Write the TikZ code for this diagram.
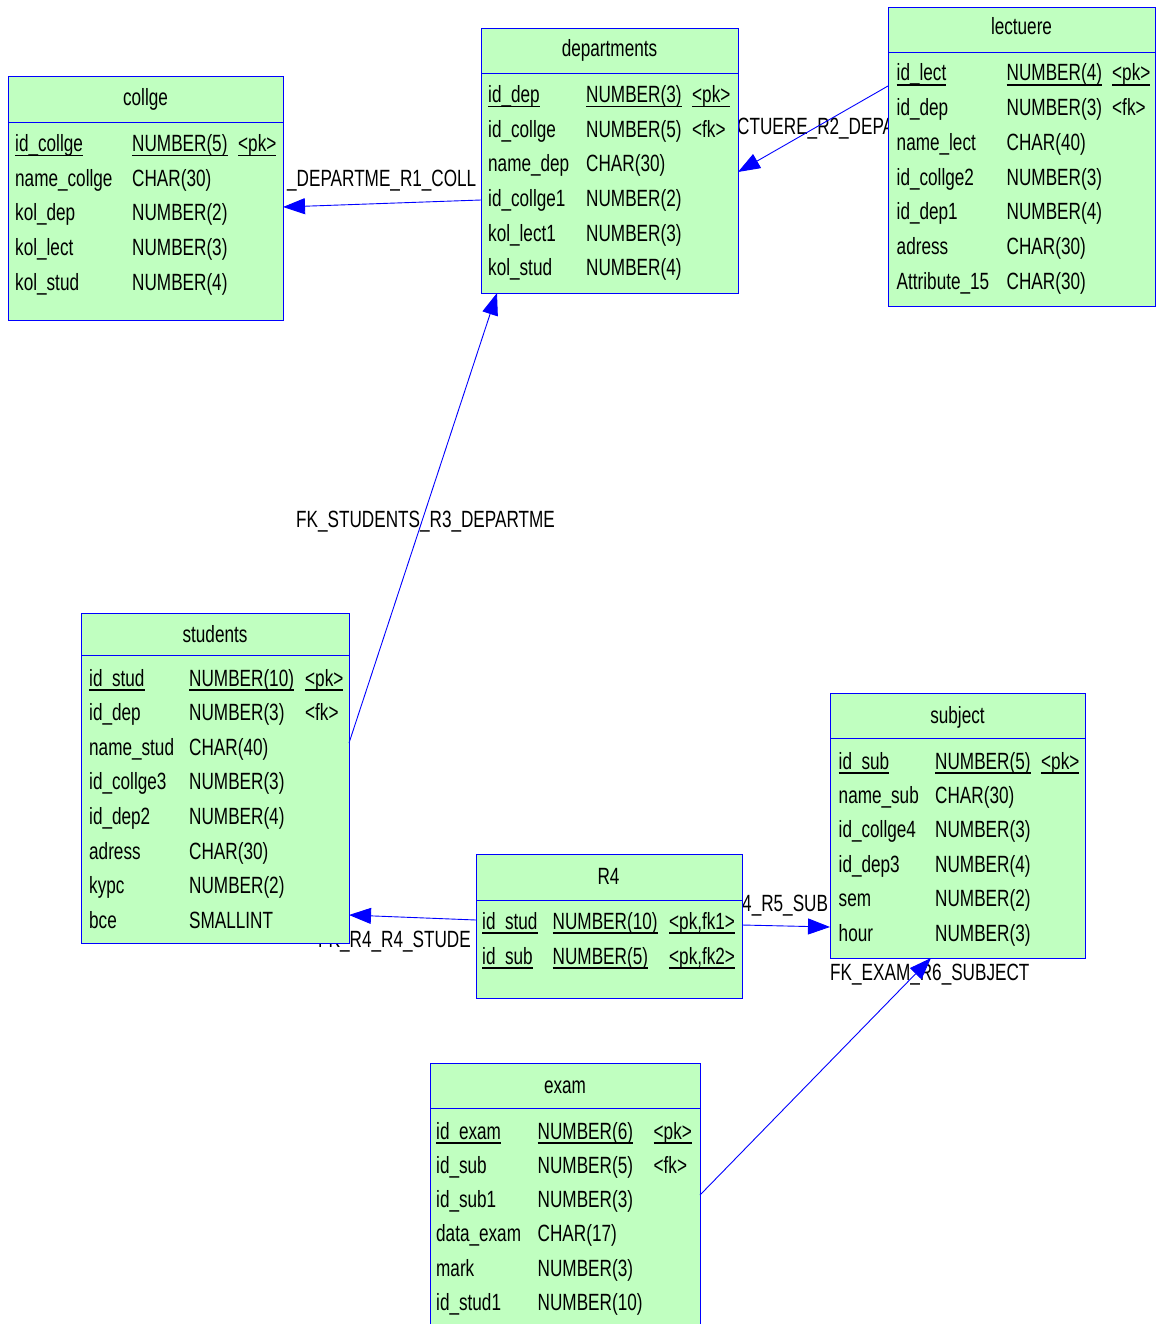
\documentclass[tikz,border=0pt]{standalone}
\usepackage{fontspec}
\setmainfont{Liberation Sans}[FakeStretch=0.73]
\usetikzlibrary{arrows.meta}
\definecolor{tgreen}{RGB}{192,255,192}
\definecolor{tblue}{RGB}{0,0,255}
\newcommand\ulx[1]{\setbox0=\hbox{#1}\rlap{\rule[-5pt]{\wd0}{1.8pt}}\box0}
\newcommand\erow[8]{%
  \node[cell] (#1a) at (#3,#2) {#6};
  \node[cell] (#1b) at (#4,#2) {#7};
  \node[cell] (#1c) at (#5,#2) {#8};}
\newcommand\drow[6]{%
  \node[cell] (#1a) at (#3,#2) {#5};
  \node[cell] (#1b) at (#4,#2) {#6};}
\tikzset{
  tbl/.style={draw=tblue, fill=tgreen, line width=0.9pt, anchor=north west, inner sep=0pt, outer sep=0pt},
  divline/.style={draw=tblue, line width=0.9pt},
  txt/.style={inner sep=0pt, font=\fontsize{23.5}{28}\selectfont},
  cell/.style={txt, anchor=base west},
  hdr/.style={txt, anchor=base},
  lbl/.style={txt, anchor=base west},
  fk/.style={draw=tblue, line width=0.9pt, -{Triangle[length=22pt,width=16pt]}},
}
\begin{document}
\begin{tikzpicture}[x=1pt,y=-1pt]
\clip (0,0) rectangle (1156,1324);
\fill[white] (0,0) rectangle (1156,1324);
% ---------- labels (partly hidden behind tables)
\node[lbl] (l1) at (287,187) {\_DEPARTME\_R1\_COLL};
\begin{scope}
  \clip (738,100) rectangle (888,150);
  \node[lbl] (l2) at (737,134.5) {CTUERE\_R2\_DEPA};
\end{scope}
\node[lbl, anchor=base] (l3) at (425.5,527) {FK\_STUDENTS\_R3\_DEPARTME};
\node[lbl] (l4) at (318,947) {FK\_R4\_R4\_STUDE};
\node[lbl] (l5) at (742,911) {4\_R5\_SUB};
\node[lbl] (l6) at (830,980) {FK\_EXAM\_R6\_SUBJECT};
% ---------- collge
\node[tbl, minimum width=275pt, minimum height=244pt] (collge) at (8,76) {};
\draw[divline] (collge.west |- 0,122) -- (collge.east |- 0,122);
\node[hdr] (collgeh) at (145.5,106) {collge};
\erow{co1}{151.5}{15}{132}{238}{\ulx{id\_collge}}{\ulx{NUMBER(5)}}{\ulx{<pk>}}
\drow{co2}{186.2}{15}{132}{name\_collge}{CHAR(30)}
\drow{co3}{220.9}{15}{132}{kol\_dep}{NUMBER(2)}
\drow{co4}{255.6}{15}{132}{kol\_lect}{NUMBER(3)}
\drow{co5}{290.3}{15}{132}{kol\_stud}{NUMBER(4)}
% ---------- departments
\node[tbl, minimum width=257pt, minimum height=265pt] (departments) at (481,28) {};
\draw[divline] (departments.west |- 0,73) -- (departments.east |- 0,73);
\node[hdr] (departmentsh) at (609.5,57) {departments};
\erow{de1}{102.5}{488}{586}{692}{\ulx{id\_dep}}{\ulx{NUMBER(3)}}{\ulx{<pk>}}
\erow{de2}{137.2}{488}{586}{692}{id\_collge}{NUMBER(5)}{<fk>}
\drow{de3}{171.9}{488}{586}{name\_dep}{CHAR(30)}
\drow{de4}{206.6}{488}{586}{id\_collge1}{NUMBER(2)}
\drow{de5}{241.3}{488}{586}{kol\_lect1}{NUMBER(3)}
\drow{de6}{276.0}{488}{586}{kol\_stud}{NUMBER(4)}
% ---------- lectuere
\node[tbl, minimum width=267pt, minimum height=299pt] (lectuere) at (888,7) {};
\draw[divline] (lectuere.west |- 0,52) -- (lectuere.east |- 0,52);
\node[hdr] (lectuereh) at (1021.5,35) {lectuere};
\erow{le1}{81}{896.5}{1006.5}{1112}{\ulx{id\_lect}}{\ulx{NUMBER(4)}}{\ulx{<pk>}}
\erow{le2}{115.7}{896.5}{1006.5}{1112}{id\_dep}{NUMBER(3)}{<fk>}
\drow{le3}{150.4}{896.5}{1006.5}{name\_lect}{CHAR(40)}
\drow{le4}{185.1}{896.5}{1006.5}{id\_collge2}{NUMBER(3)}
\drow{le5}{219.8}{896.5}{1006.5}{id\_dep1}{NUMBER(4)}
\drow{le6}{254.5}{896.5}{1006.5}{adress}{CHAR(30)}
\drow{le7}{289.2}{896.5}{1006.5}{Attribute\_15}{CHAR(30)}
% ---------- students
\node[tbl, minimum width=268pt, minimum height=330pt] (students) at (81,613) {};
\draw[divline] (students.west |- 0,655) -- (students.east |- 0,655);
\node[hdr] (studentsh) at (215,642) {students};
\erow{st1}{686}{89}{189}{305}{\ulx{id\_stud}}{\ulx{NUMBER(10)}}{\ulx{<pk>}}
\erow{st2}{720.6}{89}{189}{305}{id\_dep}{NUMBER(3)}{<fk>}
\drow{st3}{755.2}{89}{189}{name\_stud}{CHAR(40)}
\drow{st4}{789.8}{89}{189}{id\_collge3}{NUMBER(3)}
\drow{st5}{824.4}{89}{189}{id\_dep2}{NUMBER(4)}
\drow{st6}{859.0}{89}{189}{adress}{CHAR(30)}
\drow{st7}{893.6}{89}{189}{kypc}{NUMBER(2)}
\drow{st8}{928.2}{89}{189}{bce}{SMALLINT}
% ---------- R4
\node[tbl, minimum width=266pt, minimum height=144pt] (R4) at (476,854) {};
\draw[divline] (R4.west |- 0,900) -- (R4.east |- 0,900);
\node[hdr] (R4h) at (608.5,884) {R4};
\erow{r1}{929}{482}{552.5}{669}{\ulx{id\_stud}}{\ulx{NUMBER(10)}}{\ulx{<pk,fk1>}}
\erow{r2}{964}{482}{552.5}{669}{\ulx{id\_sub}}{\ulx{NUMBER(5)}}{\ulx{<pk,fk2>}}
% ---------- subject
\node[tbl, minimum width=255pt, minimum height=265pt] (subject) at (830,693) {};
\draw[divline] (subject.west |- 0,738) -- (subject.east |- 0,738);
\node[hdr] (subjecth) at (957.5,723) {subject};
\erow{su1}{769}{838.5}{935}{1041}{\ulx{id\_sub}}{\ulx{NUMBER(5)}}{\ulx{<pk>}}
\drow{su2}{803.4}{838.5}{935}{name\_sub}{CHAR(30)}
\drow{su3}{837.8}{838.5}{935}{id\_collge4}{NUMBER(3)}
\drow{su4}{872.2}{838.5}{935}{id\_dep3}{NUMBER(4)}
\drow{su5}{906.6}{838.5}{935}{sem}{NUMBER(2)}
\drow{su6}{941.0}{838.5}{935}{hour}{NUMBER(3)}
% ---------- exam
\node[tbl, minimum width=270pt, minimum height=280pt] (exam) at (430,1063) {};
\draw[divline] (exam.west |- 0,1108) -- (exam.east |- 0,1108);
\node[hdr] (examh) at (565,1093) {exam};
\erow{ex1}{1139}{436}{537.5}{653.5}{\ulx{id\_exam}}{\ulx{NUMBER(6)}}{\ulx{<pk>}}
\erow{ex2}{1173.3}{436}{537.5}{653.5}{id\_sub}{NUMBER(5)}{<fk>}
\drow{ex3}{1207.6}{436}{537.5}{id\_sub1}{NUMBER(3)}
\drow{ex4}{1241.9}{436}{537.5}{data\_exam}{CHAR(17)}
\drow{ex5}{1276.2}{436}{537.5}{mark}{NUMBER(3)}
\drow{ex6}{1310.5}{436}{537.5}{id\_stud1}{NUMBER(10)}
% ---------- connectors
\draw[fk] (departments.west |- 0,200) -- (collge.east |- 0,207);
\draw[fk] (lectuere.west |- 0,86) -- (departments.east |- 0,172);
\draw[fk] (students.east |- 0,743) -- (departments.south -| 497,0);
\draw[fk] (R4.west |- 0,920) -- (students.east |- 0,915);
\draw[fk] (R4.east |- 0,925) -- (subject.west |- 0,927);
\draw[fk] (exam.east |- 0,1195) -- (subject.south -| 931,0);
\end{tikzpicture}
\end{document}
